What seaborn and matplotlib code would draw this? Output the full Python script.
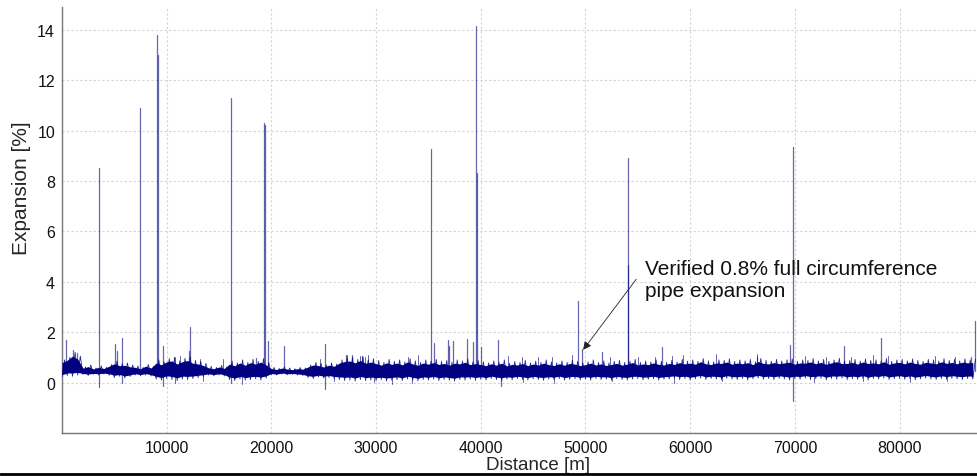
import numpy as np
import pandas as pd
import matplotlib
matplotlib.use("Agg")
import matplotlib.pyplot as plt
from matplotlib.lines import Line2D
import seaborn as sns

# ---------------- data ----------------
BAND_STEP_M = 500  # sampling step of the envelope lists below
band_hi = [
    0.90, 1.00, 1.20, 1.05,
    0.62, 0.70, 0.58, 0.66, 0.60, 0.72,
    0.85, 0.75, 0.78, 0.70,
    0.66, 0.60, 0.72, 0.64,
    0.90, 0.82, 0.95, 1.00, 0.86, 0.96, 1.02, 0.88,
    0.84, 0.76,
    0.64, 0.60, 0.68, 0.62,
    0.85, 0.78, 0.90, 0.80, 0.92, 0.84, 0.95, 0.80,
    0.60, 0.56, 0.62, 0.58, 0.55, 0.60, 0.58,
    0.70, 0.80, 0.76, 0.70, 0.78, 0.74,
    0.90, 0.98, 1.00, 0.92, 1.02, 0.90, 0.95,
    0.88, 0.80, 0.92, 0.84, 0.90, 0.82, 0.95, 0.86, 0.80, 0.90,
    0.85, 0.92, 0.84, 0.88, 0.80, 0.90, 0.86, 0.94, 0.82, 0.88,
    0.82, 0.78, 0.86, 0.80, 0.90, 0.76, 0.84, 0.80, 0.88, 0.78,
    0.85, 0.80, 0.90, 0.82, 0.78, 0.86, 0.80, 0.88, 0.84, 0.78,
    0.82, 0.90, 0.80, 0.86, 0.78, 0.84, 0.88, 0.80, 0.85, 0.92,
    0.80, 0.86, 0.82, 0.90, 0.84, 0.80,
    0.88, 0.82, 0.92, 0.85, 0.90, 0.84, 0.95, 0.86, 0.82, 0.90,
    0.88, 0.94, 0.84, 0.90, 0.86, 0.92, 0.82, 0.96, 0.88, 0.85,
    0.92, 0.86, 0.90, 0.94, 0.84, 0.90, 0.88, 0.95, 0.86, 0.92,
    0.84, 0.90, 0.96, 0.86, 0.88, 0.92, 0.85, 0.94, 0.88, 0.90,
    0.86, 0.95, 0.84, 0.90, 0.92, 0.86, 0.94, 0.88, 0.84, 0.92,
    0.90, 0.86, 0.95, 0.88, 0.92, 0.86, 0.94, 0.90, 0.92,
]
band_lo = [
    0.22, 0.28, 0.25, 0.30,
    0.32, 0.28, 0.33, 0.30, 0.34, 0.29,
    0.20, 0.25, 0.18, 0.24,
    0.30, 0.27, 0.30, 0.26,
    0.14, 0.10, 0.16, 0.12, 0.08, 0.14, 0.12, 0.16,
    0.20, 0.24,
    0.30, 0.27, 0.30, 0.26,
    0.12, 0.08, 0.14, 0.10, 0.12, 0.15, 0.10, 0.18,
    0.32, 0.30, 0.34, 0.31, 0.33, 0.30, 0.28,
    0.20, 0.16, 0.22, 0.18, 0.20, 0.16,
    0.12, 0.08, 0.10, 0.06, 0.12, 0.08, 0.10,
    0.08, 0.12, 0.06, 0.10, 0.12, 0.08, 0.14, 0.10, 0.07, 0.12,
    0.10, 0.14, 0.08, 0.12, 0.10, 0.06, 0.12, 0.10, 0.14, 0.09,
    0.14, 0.10, 0.16, 0.12, 0.08, 0.14, 0.11, 0.16, 0.12, 0.10,
    0.15, 0.12, 0.09, 0.14, 0.12, 0.16, 0.10, 0.13, 0.15, 0.11,
    0.14, 0.10, 0.16, 0.12, 0.14, 0.09, 0.15, 0.12, 0.10, 0.14,
    0.16, 0.11, 0.13, 0.15, 0.10, 0.14,
    0.14, 0.18, 0.12, 0.16, 0.10, 0.15, 0.18, 0.12, 0.16, 0.14,
    0.11, 0.17, 0.14, 0.12, 0.16, 0.10, 0.15, 0.18, 0.13, 0.16,
    0.12, 0.17, 0.14, 0.10, 0.16, 0.13, 0.18, 0.12, 0.15, 0.17,
    0.11, 0.16, 0.14, 0.18, 0.12, 0.15, 0.13, 0.17, 0.10, 0.16,
    0.14, 0.18, 0.12, 0.15, 0.17, 0.13, 0.16, 0.11, 0.15, 0.18,
    0.14, 0.12, 0.16, 0.13, 0.17, 0.15, 0.12, 0.16, 0.14,
]
SPIKE_BASE = 0.45
# tall spikes and clearly visible small spikes / dips
spike_dist = [
    3530, 7420, 9070, 9130, 12200, 16140, 19300, 19370, 35240, 39530,
    39600, 49300, 54040, 54100, 69810, 87200,
    380, 1080, 1400, 5060, 5220, 5760, 9680, 12150, 18560, 19700,
    21200, 25120, 27090, 27660, 28620, 35560, 36830, 36960, 37370, 38650,
    39280, 40010, 41600, 49660, 51600, 57270, 66370, 69520, 74710, 78220,
    86870,
    3530, 5760, 9680, 16140, 25120, 41930, 69810,
]
spike_peak = [
    8.5, 10.9, 13.8, 13.0, 2.2, 11.3, 10.3, 10.2, 9.25, 14.15,
    8.3, 3.25, 8.9, 4.65, 9.35, 2.45,
    1.7, 1.28, 1.18, 1.55, 1.24, 1.75, 1.47, 1.25, 0.98, 1.64,
    1.47, 1.55, 1.11, 1.10, 1.05, 1.58, 1.68, 1.47, 1.64, 1.71,
    1.62, 1.40, 1.67, 1.34, 1.22, 1.42, 1.00, 1.50, 1.44, 1.77,
    1.00,
    -0.17, -0.02, -0.15, 0.0, -0.25, -0.15, -0.75,
]
# faint fuzz on the band edges
fuzz_dist = [
    10790, 11270, 13180, 15380, 24640, 27190, 28460, 28940, 29200, 33050,
    34000, 42600, 43900, 45460, 46770, 48680, 52330, 55040, 56630, 58230,
    59300, 62450, 66340, 70950, 73000, 75400, 77450, 78900, 83370, 85280,
    10800, 13500, 17200, 26000, 29800, 31500, 33400, 44000, 47000, 52500,
    58500, 63000, 71800, 76500, 81000, 84500,
]
fuzz_peak = [
    1.00, 1.05, 0.95, 0.95, 0.95, 1.10, 1.05, 1.00, 1.10, 1.00,
    1.10, 1.05, 1.00, 1.00, 1.00, 1.10, 1.00, 1.00, 1.00, 1.05,
    1.11, 1.15, 1.15, 1.05, 1.00, 1.00, 1.10, 1.05, 1.05, 1.00,
    0.00, 0.05, -0.05, 0.05, 0.02, -0.05, 0.00, 0.02, 0.00, 0.05,
    0.00, 0.05, 0.02, 0.05, 0.03, 0.05,
]
x_ticks = [0, 10000, 20000, 30000, 40000, 50000, 60000, 70000, 80000]
x_ticklabels = ["", "10000", "20000", "30000", "40000", "50000", "60000", "70000", "80000"]
y_ticks = [-2, 0, 2, 4, 6, 8, 10, 12, 14]
y_ticklabels = ["", "0", "2", "4", "6", "8", "10", "12", "14"]
annot_text = "Verified 0.8% full circumference\npipe expansion"
annot_tip = (49780, 1.3)
annot_tail = (54850, 4.1)

# ---------------- build frames ----------------
n = min(len(band_hi), len(band_lo))
lo = np.array(band_lo[:n])
hi = np.array(band_hi[:n])
band_d = np.arange(n) * BAND_STEP_M
zz_x, zz_y = [], []
for d, l, h in zip(band_d, lo, hi):
    zz_x += [d, d + BAND_STEP_M / 2]
    zz_y += [l, h]
band_df = pd.DataFrame({"distance": zz_x, "expansion": zz_y})


def spikes_frame(dists, peaks, base):
    rows = []
    for i, (d, p) in enumerate(zip(dists, peaks)):
        rows.append((i, d, base))
        rows.append((i, d, p))
    return pd.DataFrame(rows, columns=["id", "distance", "expansion"])


spike_df = spikes_frame(spike_dist, spike_peak, SPIKE_BASE)
fuzz_df = spikes_frame(fuzz_dist, fuzz_peak, SPIKE_BASE)

# ---------------- plot ----------------
sns.set_style("white")
plt.rcParams["font.family"] = ["Liberation Sans", "DejaVu Sans"]
navy = "#000080"

fig = plt.figure(figsize=(9.77, 4.77), dpi=100)
ax = fig.add_axes([62 / 977, 1 - 434 / 477, 915 / 977, 426 / 477])

core_lo = lo + (hi - lo) * 0.14
core_hi = hi - (hi - lo) * 0.16
ax.fill_between(band_d, core_lo, core_hi, color=navy, lw=0, zorder=3)
sns.lineplot(data=band_df, x="distance", y="expansion", sort=False,
             estimator=None, color=navy, lw=0.6, alpha=0.85, ax=ax, zorder=3)
sns.lineplot(data=fuzz_df, x="distance", y="expansion", units="id",
             estimator=None, sort=False, color=navy, lw=0.7, alpha=0.6,
             ax=ax, legend=False, zorder=2)
sns.lineplot(data=spike_df, x="distance", y="expansion", units="id",
             estimator=None, sort=False, color=navy, lw=0.9, alpha=0.6,
             ax=ax, legend=False, zorder=2)

ax.set_xlim(0, 87400)
ax.set_ylim(-2, 14.9)
ax.set_xticks(x_ticks)
ax.set_xticklabels(x_ticklabels)
ax.set_yticks(y_ticks)
ax.set_yticklabels(y_ticklabels)
ax.tick_params(axis="both", labelsize=11.5, length=3, width=0.8,
               color="#666666", labelcolor="#111111", pad=2)
ax.grid(True, color="#d4d4d4", lw=0.8, ls=(0, (2, 2)))
ax.set_axisbelow(True)
for s in ["top", "right"]:
    ax.spines[s].set_visible(False)
for s in ["left", "bottom"]:
    ax.spines[s].set_color("#777777")
    ax.spines[s].set_linewidth(1.0)

ax.set_xlabel("Distance [m]", fontsize=13.5)
ax.set_ylabel("Expansion [%]", fontsize=15)
ax.xaxis.set_label_coords(0.52, -0.054)
ax.yaxis.set_label_coords(-0.034, 0.577)

ax.text(55700, 4.1, annot_text, fontsize=15, ha="left", va="center",
        color="#111111", linespacing=1.22, zorder=5)
ax.annotate("", xy=annot_tip, xytext=annot_tail,
            arrowprops=dict(arrowstyle="-|>", color="#222222", lw=0.6,
                            mutation_scale=12, shrinkA=0, shrinkB=0),
            zorder=5)

fig.add_artist(Line2D([0, 1], [0.0045, 0.0045], transform=fig.transFigure,
                      color="black", lw=2))

fig.savefig("out.png", dpi=100)
